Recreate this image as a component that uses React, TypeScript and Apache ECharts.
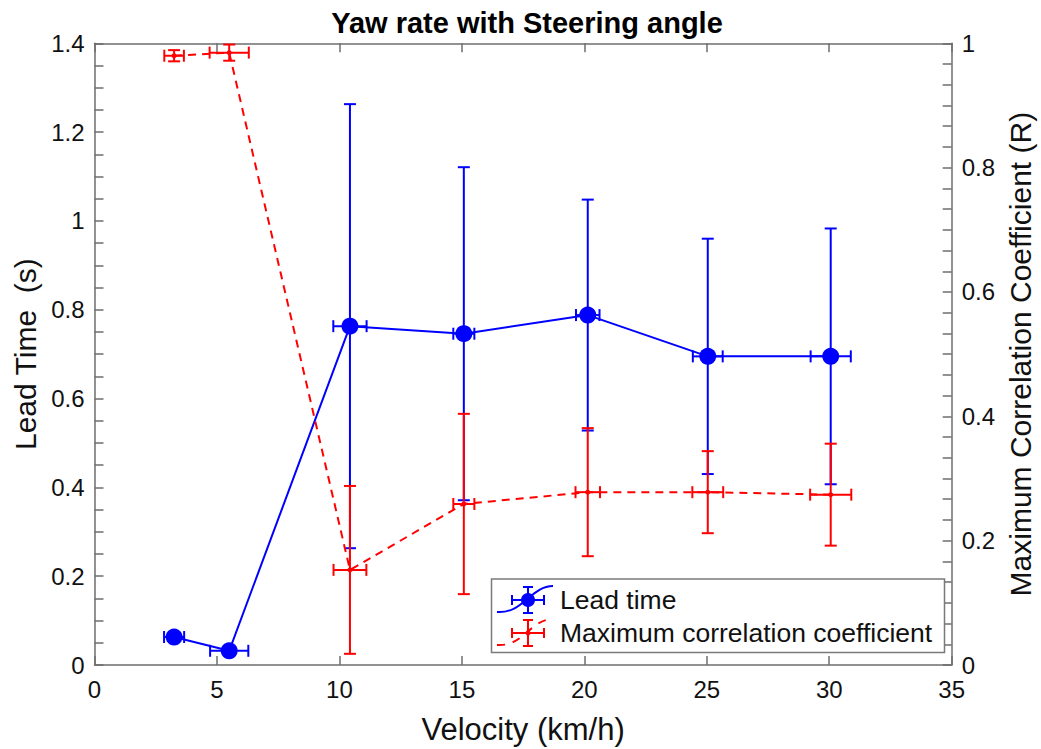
import React, { useEffect, useRef } from "react";
import * as echarts from "echarts";

// Test velocities (km/h)
const velocity = [3.25, 5.5, 10.43, 15.08, 20.14, 25.04, 30.06];

// Lead time (s) with its spread, plus the spread of velocity
const leadTime = [0.063, 0.032, 0.763, 0.746, 0.788, 0.695, 0.695];
const leadTimeErr = [0.01, 0.01, 0.5, 0.375, 0.26, 0.265, 0.288];
const leadVelErr = [0.41, 0.78, 0.68, 0.43, 0.48, 0.61, 0.82];

// Maximum correlation coefficient (R) with its spread
const corrCoef = [0.98, 0.985, 0.153, 0.259, 0.278, 0.278, 0.274];
const corrErr = [0.009, 0.013, 0.135, 0.145, 0.103, 0.066, 0.082];
const corrVelErr = [0.4, 0.8, 0.67, 0.43, 0.5, 0.63, 0.84];

// Axis ranges; ticks are dense, labels only at the major step
const xRange = { min: 0, max: 35, interval: 5 };
const leftRange = { min: 0, max: 1.4, tickStep: 0.05, labelStep: 0.2 };
const rightRange = { min: 0, max: 1, tickStep: 1 / 30, labelStep: 0.2 };

const BLUE = "#0000ff";
const RED = "#ff0000";
const AXIS = "#6e6e6e";
const FONT = "'Liberation Sans', Arial, Helvetica, sans-serif";

function errorBars(color: string) {
  return (params: any, api: any) => {
    const x = api.value(0);
    const y = api.value(1);
    const xe = api.value(2);
    const ye = api.value(3);
    const top = api.coord([x, y + ye]);
    const bot = api.coord([x, y - ye]);
    const l = api.coord([x - xe, y]);
    const r = api.coord([x + xe, y]);
    const cap = 6;
    const style = { stroke: color, lineWidth: 2, fill: null };
    const seg = (x1: number, y1: number, x2: number, y2: number) => ({
      type: "line",
      shape: { x1, y1, x2, y2 },
      style,
    });
    return {
      type: "group",
      children: [
        seg(top[0], top[1], bot[0], bot[1]),
        seg(top[0] - cap, top[1], top[0] + cap, top[1]),
        seg(bot[0] - cap, bot[1], bot[0] + cap, bot[1]),
        seg(l[0], l[1], r[0], r[1]),
        seg(l[0], l[1] - cap, l[0], l[1] + cap),
        seg(r[0], r[1] - cap, r[0], r[1] + cap),
      ],
    };
  };
}

function legendIcon(cx: number, cy: number, color: string, dashed: boolean, dot: number) {
  const style = { stroke: color, lineWidth: 2, fill: null };
  const cap = 5;
  const z = 101;
  return [
    {
      type: "bezierCurve",
      z,
      shape: {
        x1: cx - 31, y1: cy + 12,
        cpx1: cx - 5, cpy1: cy + 14,
        cpx2: cx + 3, cpy2: cy - 14,
        x2: cx + 25, y2: cy - 14,
      },
      style: { stroke: color, lineWidth: 2, fill: null, lineDash: dashed ? [8, 8] : null },
    },
    { type: "line", z, shape: { x1: cx, y1: cy - 13, x2: cx, y2: cy + 13 }, style },
    { type: "line", z, shape: { x1: cx - cap, y1: cy - 13, x2: cx + cap, y2: cy - 13 }, style },
    { type: "line", z, shape: { x1: cx - cap, y1: cy + 13, x2: cx + cap, y2: cy + 13 }, style },
    { type: "line", z, shape: { x1: cx - 16, y1: cy, x2: cx + 16, y2: cy }, style },
    { type: "line", z, shape: { x1: cx - 16, y1: cy - cap, x2: cx - 16, y2: cy + cap }, style },
    { type: "line", z, shape: { x1: cx + 16, y1: cy - cap, x2: cx + 16, y2: cy + cap }, style },
    { type: "circle", z, shape: { cx, cy, r: dot }, style: { fill: color } },
  ];
}

function stepLabel(step: number) {
  return (v: number) => {
    const k = v / step;
    if (Math.abs(k - Math.round(k)) > 1e-6) return "";
    return String(Math.round(v * 10) / 10);
  };
}

export default function App() {
  const ref = useRef<HTMLDivElement>(null);

  useEffect(() => {
    if (!ref.current) return;
    const chart = echarts.init(ref.current, null, { renderer: "svg" });

    const leadBars = velocity.map((v, i) => [v, leadTime[i], leadVelErr[i], leadTimeErr[i]]);
    const corrBars = velocity.map((v, i) => [v, corrCoef[i], corrVelErr[i], corrErr[i]]);
    const leadLine = velocity.map((v, i) => [v, leadTime[i]]);
    const corrLine = velocity.map((v, i) => [v, corrCoef[i]]);

    const tickLabel = { fontSize: 24, color: "#111", fontFamily: FONT };
    const nameStyle = { fontSize: 30, color: "#111", fontFamily: FONT };
    const axisLine = { show: true, onZero: false, lineStyle: { color: AXIS, width: 1.5 } };
    const axisTick = { show: true, inside: true, length: 9, lineStyle: { color: AXIS, width: 1.5 } };

    chart.setOption({
      animation: false,
      backgroundColor: "#ffffff",
      title: {
        text: "Yaw rate with Steering angle",
        left: 522,
        textAlign: "center",
        top: 3,
        textStyle: { fontSize: 29, fontWeight: "bold", color: "#000", fontFamily: FONT },
      },
      grid: {
        left: 94.5,
        right: 89.3,
        top: 43.3,
        bottom: 84,
        containLabel: false,
        outerBoundsMode: "none",
      },
      xAxis: [
        {
          type: "value",
          position: "bottom",
          ...xRange,
          axisLine,
          axisTick,
          splitLine: { show: false },
          axisLabel: { ...tickLabel, margin: 12 },
          name: "Velocity (km/h)",
          nameLocation: "middle",
          nameGap: 49,
          nameTextStyle: { ...nameStyle, fontSize: 31 },
        },
        {
          type: "value",
          position: "top",
          ...xRange,
          axisLine,
          axisTick,
          splitLine: { show: false },
          axisLabel: { show: false },
        },
      ],
      yAxis: [
        {
          type: "value",
          position: "left",
          min: leftRange.min,
          max: leftRange.max,
          interval: leftRange.tickStep,
          axisLine,
          axisTick,
          splitLine: { show: false },
          axisLabel: { ...tickLabel, margin: 10, formatter: stepLabel(leftRange.labelStep) },
          name: "Lead Time  (s)",
          nameLocation: "middle",
          nameRotate: 90,
          nameGap: 46,
          nameTextStyle: nameStyle,
        },
        {
          type: "value",
          position: "right",
          min: rightRange.min,
          max: rightRange.max,
          interval: rightRange.tickStep,
          axisLine,
          axisTick,
          splitLine: { show: false },
          axisLabel: { ...tickLabel, margin: 10, formatter: stepLabel(rightRange.labelStep) },
          name: "Maximum Correlation Coefficient (R)",
          nameLocation: "middle",
          nameRotate: 90,
          nameGap: 52,
          nameTextStyle: nameStyle,
        },
      ],
      series: [
        {
          type: "custom",
          name: "Lead time bars",
          xAxisIndex: 0,
          yAxisIndex: 0,
          renderItem: errorBars(BLUE),
          data: leadBars,
          encode: { x: 0, y: 1 },
          clip: false,
          z: 2,
        },
        {
          type: "line",
          name: "Lead time",
          xAxisIndex: 0,
          yAxisIndex: 0,
          data: leadLine,
          symbol: "circle",
          symbolSize: 17,
          itemStyle: { color: BLUE },
          lineStyle: { color: BLUE, width: 2 },
          z: 3,
        },
        {
          type: "custom",
          name: "Correlation bars",
          xAxisIndex: 1,
          yAxisIndex: 1,
          renderItem: errorBars(RED),
          data: corrBars,
          encode: { x: 0, y: 1 },
          clip: false,
          z: 4,
        },
        {
          type: "line",
          name: "Maximum correlation coefficient",
          xAxisIndex: 1,
          yAxisIndex: 1,
          data: corrLine,
          symbol: "circle",
          symbolSize: 5,
          itemStyle: { color: RED },
          lineStyle: { color: RED, width: 2, type: [8, 6] },
          z: 5,
        },
      ],
      graphic: [
        {
          type: "rect",
          z: 100,
          shape: { x: 491.5, y: 579, width: 453, height: 73.5 },
          style: { fill: "#ffffff", stroke: "#7a7a7a", lineWidth: 1.5 },
        },
        ...legendIcon(528, 600, BLUE, false, 7),
        ...legendIcon(528, 633, RED, true, 2.5),
        {
          type: "text",
          z: 101,
          x: 560,
          y: 600,
          style: {
            text: "Lead time",
            fontSize: 26.5,
            fontFamily: FONT,
            fill: "#111",
            verticalAlign: "middle",
          },
        },
        {
          type: "text",
          z: 101,
          x: 560,
          y: 633,
          style: {
            text: "Maximum correlation coefficient",
            fontSize: 26.5,
            fontFamily: FONT,
            fill: "#111",
            verticalAlign: "middle",
          },
        },
      ],
    });

    return () => chart.dispose();
  }, []);

  return (
    <div
      ref={ref}
      style={{ position: "fixed", left: 0, top: 0, width: 1041, height: 749, background: "#fff" }}
    />
  );
}
